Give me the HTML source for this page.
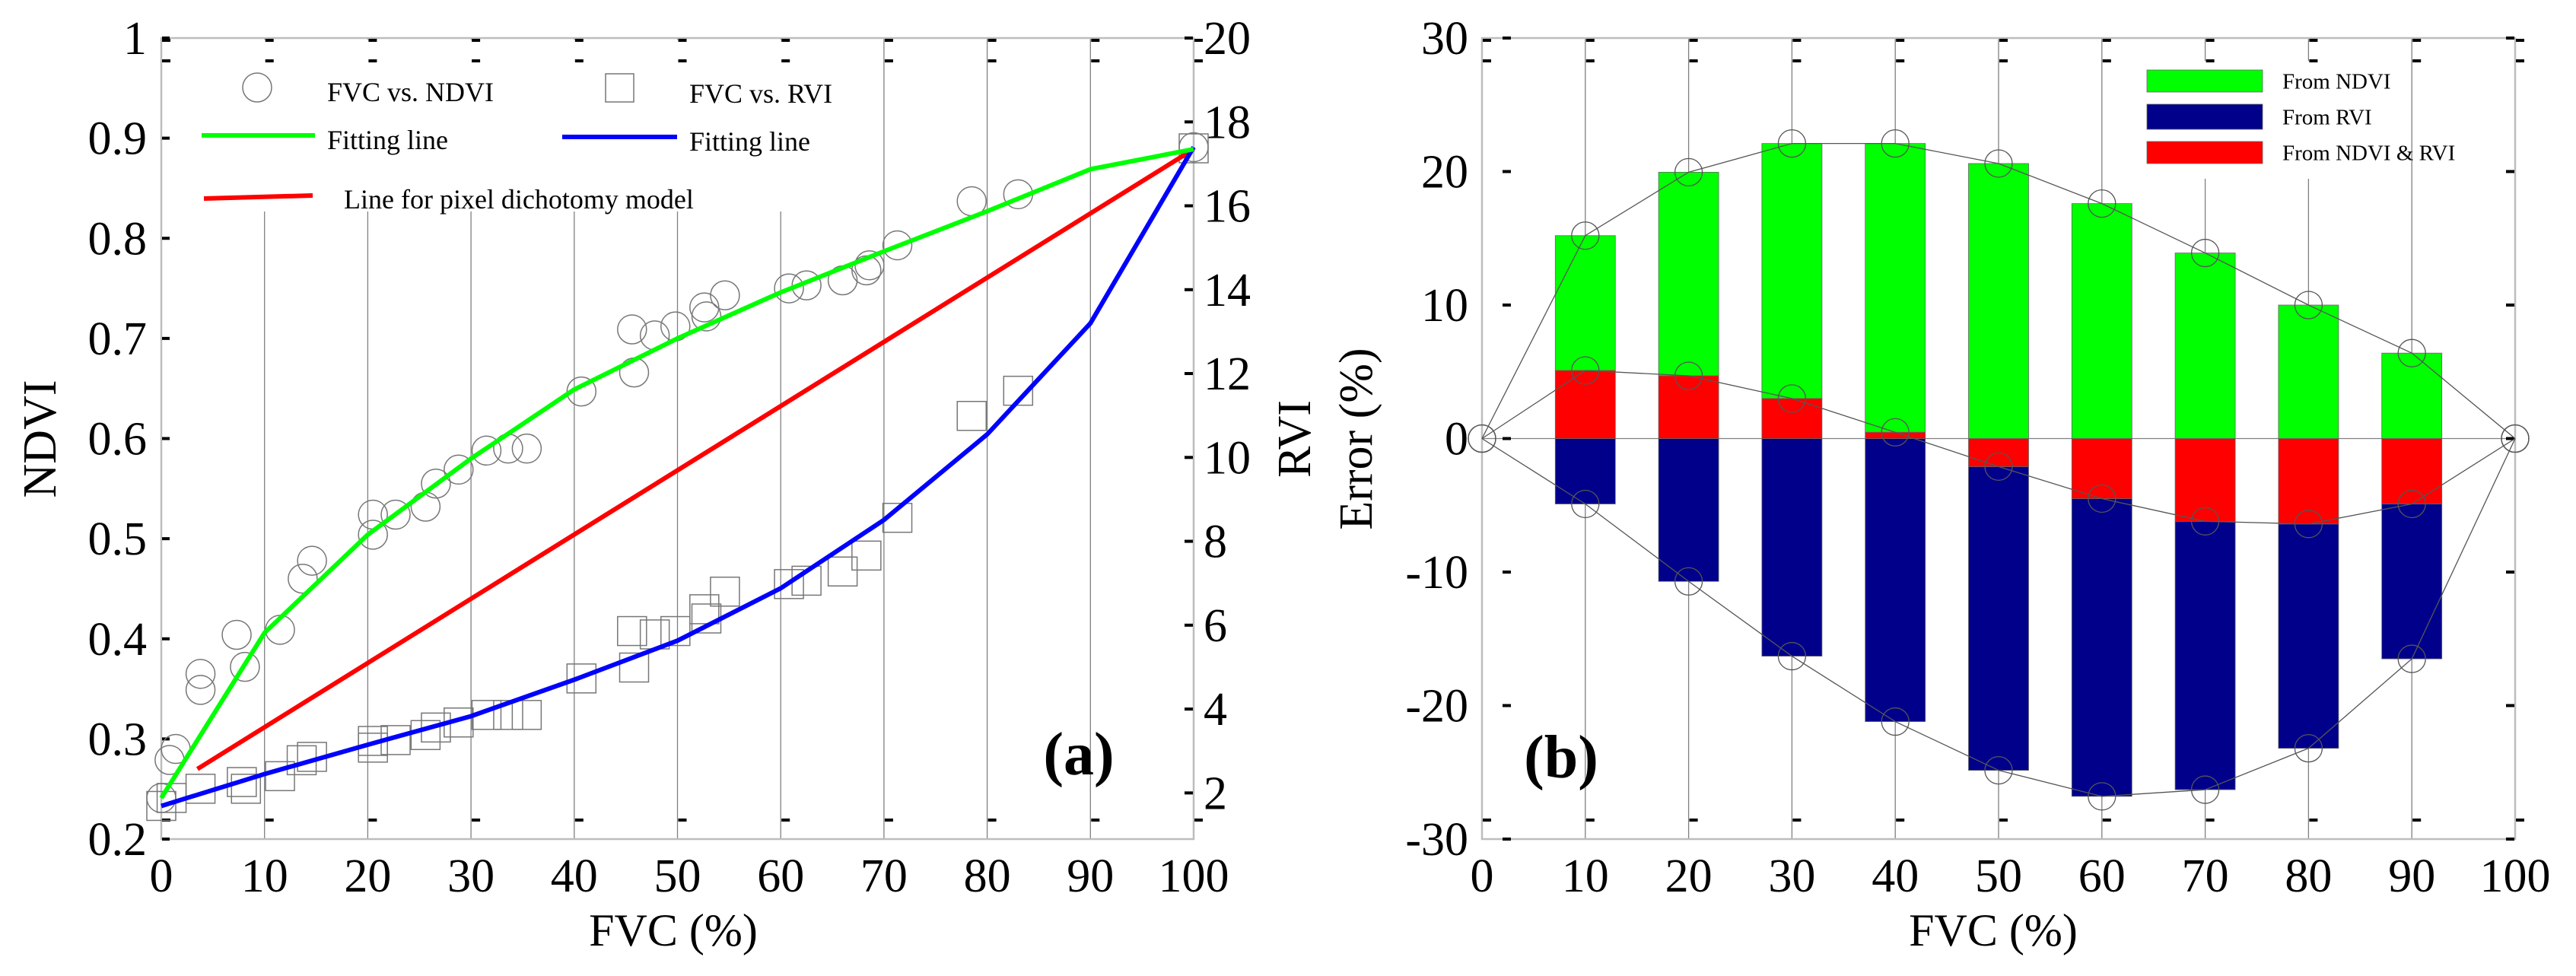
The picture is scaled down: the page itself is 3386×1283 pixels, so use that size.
<!DOCTYPE html>
<html><head><meta charset="utf-8"><style>
html,body{margin:0;padding:0;background:#fff}
svg{display:block}
text{font-family:"Liberation Serif",serif;fill:#000}
</style></head><body>
<svg id="fig" width="3386" height="1283" viewBox="0 0 3386 1283" xmlns="http://www.w3.org/2000/svg"></svg>
<script>
// ---------- Panel (a) data ----------
const fitX = [0,10,20,30,40,50,60,70,80,90,100];
const fitNdvi = [0.241,0.406,0.504,0.58,0.649,0.70,0.746,0.787,0.827,0.869,0.889];
const fitRvi = [1.69,2.45,3.15,3.83,4.70,5.63,6.88,8.51,10.55,13.2,17.4];
const pdmX = [3.5,100];
const pdmNdvi = [0.27,0.889];
const scatX = [0,0.8,1.4,3.8,3.8,7.3,8.1,11.5,13.7,14.6,20.5,20.5,22.7,25.6,26.6,28.8,31.5,33.6,35.4,40.7,45.6,45.8,47.8,49.8,52.6,52.8,54.6,60.8,62.5,66,68.3,68.6,71.3,78.5,83,100];
const scatNdvi = [0.241,0.279,0.29,0.365,0.349,0.404,0.372,0.409,0.46,0.478,0.524,0.504,0.524,0.532,0.555,0.569,0.588,0.59,0.59,0.647,0.709,0.666,0.703,0.712,0.731,0.722,0.743,0.75,0.753,0.758,0.768,0.773,0.793,0.837,0.844,0.891];
const sqX = [0,1,3.8,7.8,8.2,11.5,13.6,14.6,20.5,20.5,22.7,25.6,26.6,28.8,31.5,33.6,35.4,40.7,45.6,45.8,47.8,49.8,52.6,52.8,54.6,60.8,62.5,66,68.3,71.3,78.5,83,100];
const sqRvi = [1.69,1.88,2.1,2.26,2.1,2.4,2.78,2.86,3.08,3.24,3.26,3.38,3.56,3.68,3.86,3.86,3.86,4.73,5.86,4.99,5.78,5.86,6.38,6.16,6.8,6.98,7.06,7.28,7.66,8.56,10.99,11.59,17.37];
const xTicks = [0,10,20,30,40,50,60,70,80,90,100];
const ndviTicks = [0.2,0.3,0.4,0.5,0.6,0.7,0.8,0.9,1];
const ndviLabels = ["0.2","0.3","0.4","0.5","0.6","0.7","0.8","0.9","1"];
const rviTicks = [2,4,6,8,10,12,14,16,18,20];
// ---------- Panel (b) data ----------
const barX = [10,20,30,40,50,60,70,80,90];
const errNdvi = [15.2,19.95,22.1,22.1,20.6,17.6,13.9,10.0,6.4];
const errBoth = [5.1,4.7,3.0,0.47,-2.1,-4.5,-6.2,-6.4,-4.9];
const errRvi = [-4.9,-10.7,-16.3,-21.2,-24.85,-26.8,-26.3,-23.2,-16.5];
const errTicks = [-30,-20,-10,0,10,20,30];

const NS="http://www.w3.org/2000/svg";
const svg=document.getElementById('fig');
function el(tag,attrs,parent){const e=document.createElementNS(NS,tag);for(const k in attrs)e.setAttribute(k,attrs[k]);(parent||svg).appendChild(e);return e;}
function txt(s,attrs,parent){const e=el('text',attrs,parent);e.textContent=s;return e;}

// axes functions
const AX0=212,AX1=1569,TOP=50,BOT=1103;
const xa=v=>AX0+(AX1-AX0)*v/100;
const yN=v=>TOP+(1-v)/0.8*(BOT-TOP);
const RMIN=0.9;
const yR=v=>TOP+(20-v)/(20-RMIN)*(BOT-TOP);
const BX0=1948,BX1=3306;
const xb=v=>BX0+(BX1-BX0)*v/100;
const yE=v=>TOP+(30-v)/60*(BOT-TOP);

// ===== Panel a =====
const ga=el('g',{});  
xTicks.slice(1,-1).forEach(v=>{
  const l=el('line',{x1:xa(v),x2:xa(v),y1:TOP,y2:BOT,stroke:'#808080','stroke-width':1.3},ga);
   
});
// legend background hides gridlines
const lb=el('rect',{x:240,y:52,width:890,height:226,fill:'#fff'},ga);
 
// box
const boxA=el('rect',{x:AX0,y:TOP,width:AX1-AX0,height:BOT-TOP,fill:'none',stroke:'#bdbdbd','stroke-width':2.5},ga);
 
// tick dashes
xTicks.forEach(v=>{
  [TOP+1,TOP+28,BOT-27].forEach(y=>{el('rect',{x:xa(v)+1,y:y,width:11,height:4,fill:'#000'},ga);});
});
ndviTicks.forEach(v=>{el('rect',{x:AX0+1,y:yN(v)-2,width:10,height:4,fill:'#000'},ga);});
rviTicks.forEach(v=>{el('rect',{x:AX1-12,y:yR(v)-2,width:11,height:4,fill:'#000'},ga);});
// tick labels
xTicks.forEach(v=>{const t=txt(String(v),{x:xa(v),y:1172,'font-size':62,'text-anchor':'middle'},ga);});
ndviTicks.forEach((v,i)=>{const t=txt(ndviLabels[i],{x:193,y:yN(v)+21,'font-size':62,'text-anchor':'end'},ga);});
rviTicks.forEach(v=>{const t=txt(String(v),{x:1582,y:yR(v)+21,'font-size':62},ga);});
// titles
let t;
t=txt('FVC (%)',{x:885,y:1243,'font-size':60,'text-anchor':'middle'},ga);
t=txt('NDVI',{x:0,y:0,'font-size':62,'text-anchor':'middle',transform:'translate(73,577) rotate(-90)'},ga);
t=txt('RVI',{x:0,y:0,'font-size':62,'text-anchor':'middle',transform:'translate(1722,577) rotate(-90)'},ga);
t=txt('(a)',{x:1418,y:1018,'font-size':80,'font-weight':'bold','text-anchor':'middle'},ga);
// scatter
scatX.forEach((v,i)=>{const c=el('circle',{cx:xa(v),cy:yN(scatNdvi[i]),r:19,fill:'none',stroke:'#777','stroke-width':1.5},ga);
  });
sqX.forEach((v,i)=>{const r=el('rect',{x:xa(v)-19,y:yR(sqRvi[i])-19,width:38,height:38,fill:'none',stroke:'#777','stroke-width':1.5},ga);
  });
// lines
let p;
p=el('polyline',{points:pdmX.map((v,i)=>xa(v)+','+yN(pdmNdvi[i])).join(' '),fill:'none',stroke:'#ff0000','stroke-width':6},ga);
p=el('polyline',{points:fitX.map((v,i)=>xa(v)+','+yR(fitRvi[i])).join(' '),fill:'none',stroke:'#0000ff','stroke-width':6},ga);
p=el('polyline',{points:fitX.map((v,i)=>xa(v)+','+yN(fitNdvi[i])).join(' '),fill:'none',stroke:'#00ff00','stroke-width':6},ga);
// legend a
const lga=el('g',{},ga);
let e;
e=el('circle',{cx:338,cy:115,r:19,fill:'none',stroke:'#777','stroke-width':1.5},lga);
t=txt('FVC vs. NDVI',{x:430,y:133,'font-size':36},lga);
e=el('rect',{x:796,y:97,width:37,height:37,fill:'none',stroke:'#777','stroke-width':1.5},lga);
t=txt('FVC vs. RVI',{x:906,y:135,'font-size':36},lga);
e=el('line',{x1:265,y1:178,x2:414,y2:178,stroke:'#00ff00','stroke-width':6},lga);
t=txt('Fitting line',{x:430,y:196,'font-size':36},lga);
e=el('line',{x1:739,y1:180,x2:890,y2:180,stroke:'#0000ff','stroke-width':6},lga);
t=txt('Fitting line',{x:906,y:198,'font-size':36},lga);
e=el('line',{x1:268,y1:261,x2:411,y2:257,stroke:'#ff0000','stroke-width':6},lga);
t=txt('Line for pixel dichotomy model',{x:452,y:274,'font-size':36},lga);

// ===== Panel b =====
const gb=el('g',{});
xTicks.slice(1,-1).forEach(v=>{
  const l=el('line',{x1:xb(v),x2:xb(v),y1:TOP,y2:BOT,stroke:'#808080','stroke-width':1.3},gb);
  
});
const lbb=el('rect',{x:2805,y:80,width:300,height:155,fill:'#fff'},gb);
const boxB=el('rect',{x:BX0,y:TOP,width:BX1-BX0,height:BOT-TOP,fill:'none',stroke:'#bdbdbd','stroke-width':2.5},gb);

const zl=el('line',{x1:BX0,x2:BX1,y1:yE(0),y2:yE(0),stroke:'#808080','stroke-width':1.3},gb);
xTicks.forEach(v=>{[TOP+1,TOP+28,BOT-27].forEach(y=>{el('rect',{x:xb(v)+1,y:y,width:11,height:4,fill:'#000'},gb);});});
errTicks.forEach(v=>{el('rect',{x:BX0+27,y:yE(v)-2,width:11,height:4,fill:'#000'},gb);el('rect',{x:BX1-12,y:yE(v)-2,width:11,height:4,fill:'#000'},gb);});
xTicks.forEach(v=>{t=txt(String(v),{x:xb(v),y:1172,'font-size':62,'text-anchor':'middle'},gb);});
errTicks.forEach(v=>{t=txt(String(v),{x:1930,y:yE(v)+21,'font-size':62,'text-anchor':'end'},gb);});
t=txt('FVC (%)',{x:2620,y:1243,'font-size':60,'text-anchor':'middle'},gb);
t=txt('Error (%)',{x:0,y:0,'font-size':62,'text-anchor':'middle',transform:'translate(1803,577) rotate(-90)'},gb);
// bars
const BW=79;
barX.forEach((v,i)=>{
  const cx=xb(v), c=errBoth[i];
  const g0=Math.max(0,c);
  let r=el('rect',{x:cx-BW/2,y:yE(errNdvi[i]),width:BW,height:yE(g0)-yE(errNdvi[i]),fill:'#00ff00',stroke:'#666','stroke-width':0.8},gb);
  
  const b0=Math.min(0,c);
  r=el('rect',{x:cx-BW/2,y:yE(b0),width:BW,height:yE(errRvi[i])-yE(b0),fill:'#00008b',stroke:'#666','stroke-width':0.8},gb);
  
  r=el('rect',{x:cx-BW/2,y:Math.min(yE(c),yE(0)),width:BW,height:Math.abs(yE(c)-yE(0)),fill:'#ff0000',stroke:'#666','stroke-width':0.8},gb);
  
});
// envelope lines + circles
[errNdvi,errBoth,errRvi].forEach((arr,k)=>{
  const xs=[0].concat(barX,[100]), ys=[0].concat(arr,[0]);
  const pl=el('polyline',{points:xs.map((v,i)=>xb(v)+','+yE(ys[i])).join(' '),fill:'none',stroke:'#555','stroke-width':1.3},gb);
  
  xs.forEach((v,i)=>{const c=el('circle',{cx:xb(v),cy:yE(ys[i]),r:18,fill:'none',stroke:'#555','stroke-width':1.3},gb);
    });
});
t=txt('(b)',{x:2052,y:1022,'font-size':80,'font-weight':'bold','text-anchor':'middle'},gb);
// legend b
const lgb=el('g',{},gb);
[['#00ff00','From NDVI',92,29],['#00008b','From RVI',137,33],['#ff0000','From NDVI & RVI',186,29]].forEach(d=>{
  const r=el('rect',{x:2822,y:d[2],width:152,height:d[3],fill:d[0],stroke:'#666','stroke-width':0.8},lgb);
  
  const tt=txt(d[1],{x:3000,y:d[2]+d[3]/2+10,'font-size':29},lgb);
  
});
</script>
</body></html>
